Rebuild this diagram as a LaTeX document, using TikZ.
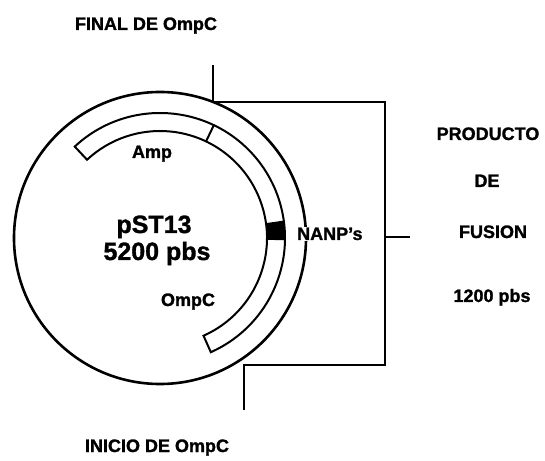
\documentclass[tikz,border=0pt]{standalone}
\usepackage{fontspec}
\setmainfont[BoldFeatures={FakeBold=1.3}]{Liberation Sans}
\begin{document}
\begin{tikzpicture}[x=1pt,y=1pt,
  lbl/.style={font=\fontsize{18}{20}\selectfont\bfseries, inner sep=1pt, anchor=base},
  big/.style={font=\fontsize{25}{28}\selectfont\bfseries, inner sep=1pt, anchor=base},
  ln/.style={line width=2pt},
  bandline/.style={line width=2pt, line join=miter}]
\useasboundingbox (0,0) rectangle (545,460);
\coordinate (c) at (160,222);
% plasmid circle
\draw[line width=2.6pt] (c) circle (146);
% band
\begin{scope}[shift={(c)}]
  \fill (-1:107) arc (-1:8:107) -- (8:125) arc (8:-1:125) -- cycle;
  \draw[bandline] (133:125) arc (133:-66:125) -- (-66:107) arc (-66:133:107) -- cycle;
  \draw[ln] (64.5:107) -- (64.5:125);
\end{scope}
% bracket
\coordinate (topend) at (213,395);
\coordinate (tl) at (213,358);
\coordinate (tr) at (385,358);
\coordinate (br) at (385,95);
\coordinate (bl) at (244,95);
\coordinate (botend) at (244,50);
\coordinate (mid) at (385,223);
\coordinate (tick) at (410,223);
\draw[ln] (topend) -- (tl) -- (tr) -- (br) -- (bl) -- (botend);
\draw[ln] (mid) -- (tick);
% center text
\node[big] (name) at (154,227) {pST13};
\node[big] (size) at (157,200) {5200 pbs};
\node[lbl] (amp) at (152,302) {Amp};
\node[lbl] (ompc) at (188,154) {OmpC};
\node[lbl, anchor=base west, fill=white] (nanp) at (296,220) {NANP's};
% outer labels
\node[lbl] (final) at (146,430) {FINAL DE OmpC};
\node[lbl] (inicio) at (157,8) {INICIO DE OmpC};
\node[lbl] (prod) at (488,320) {PRODUCTO};
\node[lbl] (de) at (487,273) {DE};
\node[lbl] (fus) at (493,222) {FUSION};
\node[lbl] (pbs) at (492,158) {1200 pbs};
\end{tikzpicture}
\end{document}
